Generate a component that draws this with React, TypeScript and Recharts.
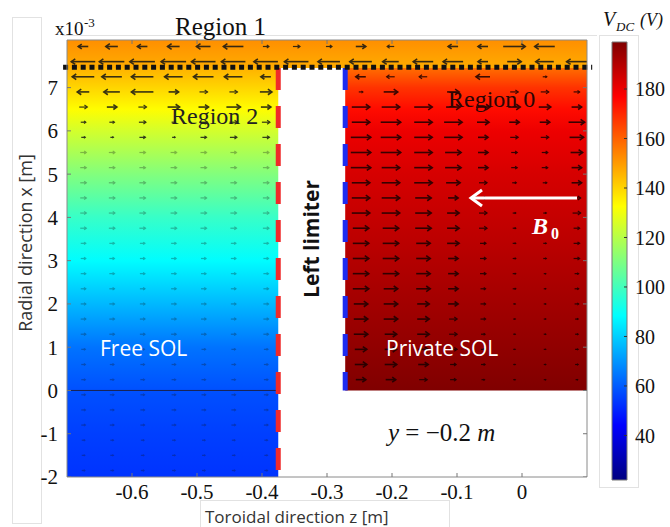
import React from 'react'
import {
  ComposedChart, XAxis, YAxis, Scatter, ReferenceArea, ReferenceLine,
} from 'recharts'

// axes
const zDomain = [-0.7, 0.1]
const xDomain = [-2, 8.1]
const vDomain = [22, 199]
const zTicks = [-0.6, -0.5, -0.4, -0.3, -0.2, -0.1, 0]
const xTicks = [-2, -1, 0, 1, 2, 3, 4, 5, 6, 7]
const vTicks = [40, 60, 80, 100, 120, 140, 160, 180]

// geometry of the domain
const limiterLeft = -0.375
const limiterRight = -0.272
const limiterTop = 7.45
const separatrix = 7.47
const privateBottom = 0

// V_DC profiles (x in 1e-3 m, V in volts) read along the radial direction
const region1Profile = [
  { x: 8.1, v: 152 }, { x: 7.45, v: 147 },
]
const region2Profile = [
  { x: 7.45, v: 146 }, { x: 7.0, v: 140 }, { x: 6.5, v: 133 }, { x: 6.0, v: 125 },
  { x: 5.0, v: 111 }, { x: 4.0, v: 98 }, { x: 3.0, v: 88 }, { x: 2.0, v: 76 },
  { x: 1.0, v: 64 }, { x: 0, v: 58 }, { x: -1, v: 55 }, { x: -2, v: 53 },
]
const region0Profile = [
  { x: 7.45, v: 158 }, { x: 7.0, v: 168 }, { x: 6.5, v: 175 }, { x: 6.0, v: 180 },
  { x: 5.0, v: 184 }, { x: 4.0, v: 187 }, { x: 3.0, v: 190 }, { x: 2.0, v: 193 },
  { x: 1.0, v: 196 }, { x: 0, v: 199 },
]

// quiver: column positions (z) and arrow lengths (px, negative = pointing to -z)
const freeCols = [-0.675, -0.631, -0.584, -0.536, -0.49, -0.444, -0.394]
const limiterCols = [-0.347, -0.297]
const privateCols = [-0.248, -0.202, -0.152, -0.106, -0.06, -0.012, 0.035, 0.084]

const region1Rows = [7.95, 7.6]
const region1U = [
  [-10, -12, -10, -12, -14, -20, 6, 7, 6, 10, -7, 0, -10, -10, 22, -20, 0],
  [-24, -25, -25, -25, -24, -24, -24, -24, -22, -22, -16, -20, -20, -10, 14, -18, -20],
]

const freeRowsUpper = [7.25, 6.9, 6.55, 6.2, 5.85]
const freeUUpper = [
  [-22, -20, -22, -18, -20, -18, -10],
  [-12, -16, -22, 10, 8, 8, 12],
  [8, 10, 8, 12, 10, 14, 10],
  [5, 5, 7, 4, 8, 8, 8],
  [4, 3, 6, 3, 6, 7, 7],
]
const freeRowsLower = [5.5, 5.15, 4.8, 4.45, 4.1, 3.75, 3.4, 3.05, 2.7, 2.35, 2.0, 1.65, 1.3, 0.95, 0.6, 0.25, -0.1, -0.45, -0.8, -1.15, -1.5, -1.85]
const freeULower = [6, 6, 6, 6, 6, 6, 5, 5, 5, 5, 5, 5, 5, 4, 4, 4, 4, 4, 4, 3, 3, 3]

const privateRows = [7.25, 6.9, 6.55, 6.2, 5.85, 5.5, 5.15, 4.8, 4.45, 4.1, 3.75, 3.4, 3.05, 2.7, 2.35, 2.0, 1.65, 1.3, 0.95, 0.6, 0.25]
const privateU = [
  [-10, -8, -8, 0, -14, 0, 4, 0],
  [4, 14, 0, 12, 0, 8, 8, 6],
  [18, 18, 18, 14, 14, 12, 12, 10],
  [18, 20, 18, 18, 12, 10, 10, 16],
  [20, 20, 18, 18, 10, 8, 8, 14],
  [20, 20, 18, 16, 10, 6, 6, 12],
  [20, 18, 18, 16, 10, 6, 6, 10],
  [18, 18, 18, 14, 8, 4, 4, 10],
  [18, 18, 16, 10, 6, 3, 3, 8],
  [18, 18, 16, 12, 8, 3, 3, 8],
  [16, 16, 16, 12, 8, 3, 3, 6],
  [16, 16, 14, 12, 6, 3, 3, 6],
  [16, 16, 14, 10, 6, 3, 3, 6],
  [16, 16, 14, 10, 6, 3, 2, 4],
  [16, 14, 14, 10, 5, 3, 2, 4],
  [14, 14, 12, 10, 5, 2, 2, 4],
  [14, 14, 12, 8, 5, 2, 2, 3],
  [14, 12, 12, 8, 4, 2, 2, 3],
  [12, 12, 10, 8, 4, 2, 2, 3],
  [12, 12, 10, 6, 4, 2, 2, 3],
  [10, 10, 8, 6, 3, 2, 2, 2],
]

const SERIF = '"Liberation Serif", "Times New Roman", serif'
const SANS = '"Open Sans", "Noto Sans", sans-serif'

const clamp = (t: number) => Math.max(0, Math.min(1, t))
function jet(v: number) {
  const t = clamp((v - vDomain[0]) / (vDomain[1] - vDomain[0]))
  const r = clamp(1.5 - Math.abs(4 * t - 3))
  const g = clamp(1.5 - Math.abs(4 * t - 2))
  const b = clamp(1.5 - Math.abs(4 * t - 1))
  const h = (c: number) => Math.round(c * 255).toString(16).padStart(2, '0')
  return `#${h(r)}${h(g)}${h(b)}`
}

function profileStops(profile: { x: number; v: number }[]) {
  const top = profile[0].x
  const bottom = profile[profile.length - 1].x
  return profile.map((p, i) => (
    <stop key={i} offset={(top - p.x) / (top - bottom)} stopColor={jet(p.v)} />
  ))
}

const arrows: { z: number; x: number; u: number; dark: boolean; faint: boolean }[] = []
const region1Cols = [...freeCols, ...limiterCols, ...privateCols]
region1Rows.forEach((x, r) => region1Cols.forEach((z, c) =>
  arrows.push({ z, x, u: region1U[r][c], dark: false, faint: false })))
freeRowsUpper.forEach((x, r) => freeCols.forEach((z, c) =>
  arrows.push({ z, x, u: freeUUpper[r][c], dark: false, faint: false })))
freeRowsLower.forEach((x, r) => freeCols.forEach(z =>
  arrows.push({ z, x, u: freeULower[r], dark: false, faint: true })))
privateRows.forEach((x, r) => privateCols.forEach((z, c) =>
  arrows.push({ z, x, u: privateU[r][c], dark: true, faint: false })))

// inward tick marks on the frame
const topMarks = zTicks.map(z => ({ z, x: xDomain[1] }))
const bottomMarks = zTicks.map(z => ({ z, x: xDomain[0] }))
const leftMarks = xTicks.map(x => ({ z: zDomain[0], x }))
const rightMarks = xTicks.map(x => ({ z: zDomain[1], x }))
const barMarks = vTicks.map(v => ({ c: 1, v }))

function Arrow(props: any) {
  const { cx, cy, payload } = props
  const u = payload?.u ?? 0
  if (Math.abs(u) < 1.5 || cx == null) return <g />
  const dir = Math.sign(u)
  const x0 = cx - u / 2
  const x1 = cx + u / 2
  const head = Math.min(4, Math.abs(u) * 0.35)
  return (
    <g
      stroke={payload.dark ? '#1a0000' : '#151515'}
      strokeWidth={Math.abs(u) > 9 ? 1.6 : 1.2}
      opacity={payload.faint ? 0.3 : 0.85}
      fill="none"
    >
      <line x1={x0} y1={cy} x2={x1} y2={cy} />
      <polyline points={`${x1 - dir * head},${cy - head * 0.7} ${x1},${cy} ${x1 - dir * head},${cy + head * 0.7}`} />
    </g>
  )
}

function Mark({ cx, cy, dx = 0, dy = 0, color = '#777' }: any) {
  if (cx == null) return <g />
  return <line x1={cx} y1={cy} x2={cx + dx} y2={cy + dy} stroke={color} strokeWidth={1} />
}

function SerifTick({ x, y, payload, anchor, dy, size }: any) {
  return (
    <text x={x} y={y} dy={dy} textAnchor={anchor} fontFamily={SERIF} fontSize={size} fill="#111">
      {payload.value}
    </text>
  )
}

const colorbarEnds = [{ c: 0, v: vDomain[0] }, { c: 1, v: vDomain[1] }]

export default function App() {
  return (
    <div style={{ position: 'absolute', left: 0, top: 0, width: 670, height: 527, background: '#fff' }}>
      <svg width={0} height={0} style={{ position: 'absolute' }}>
        <defs>
          <linearGradient id="g1" x1="0" y1="0" x2="0" y2="1">{profileStops(region1Profile)}</linearGradient>
          <linearGradient id="g2" x1="0" y1="0" x2="0" y2="1">{profileStops(region2Profile)}</linearGradient>
          <linearGradient id="g0" x1="0" y1="0" x2="0" y2="1">{profileStops(region0Profile)}</linearGradient>
          <linearGradient id="jetbar" x1="0" y1="0" x2="0" y2="1">
            {[1, 0.875, 0.625, 0.375, 0.125, 0].map((t, i) => (
              <stop key={i} offset={1 - t} stopColor={jet(vDomain[0] + t * (vDomain[1] - vDomain[0]))} />
            ))}
          </linearGradient>
        </defs>
      </svg>

      {/* faint panel boxes */}
      <div style={{ position: 'absolute', left: 12, top: 17, width: 28, height: 505, border: '1px solid #e2e2e2' }} />
      <div style={{ position: 'absolute', left: 200, top: 500, width: 248, height: 30, border: '1px solid #e2e2e2' }} />
      <div style={{ position: 'absolute', left: 599, top: 35, width: 38, height: 451, border: '1px solid #e2e2e2' }} />
      <div style={{ position: 'absolute', left: 62, top: 35, width: 535, height: 0, borderTop: '1px solid #e2e2e2' }} />

      <div style={{ position: 'absolute', left: 0, top: 0 }}>
        <ComposedChart width={670} height={527} margin={{ top: 40, right: 83, bottom: 20, left: 0 }}>
          <XAxis
            type="number" dataKey="z" domain={zDomain} ticks={zTicks} allowDataOverflow
            height={30} tickLine={false} tickMargin={1} axisLine={{ stroke: '#8a8a8a' }}
            tick={<SerifTick anchor="middle" dy="0.71em" size={21} />}
          />
          <YAxis
            type="number" dataKey="x" domain={xDomain} ticks={xTicks} allowDataOverflow
            width={67} tickLine={false} tickMargin={3} axisLine={{ stroke: '#8a8a8a' }}
            tick={<SerifTick anchor="end" dy="0.355em" size={21} />}
          />
          <ReferenceArea x1={zDomain[0]} x2={zDomain[1]} y1={limiterTop} y2={xDomain[1]} fill="url(#g1)" fillOpacity={1} stroke="none" />
          <ReferenceArea x1={zDomain[0]} x2={limiterLeft} y1={xDomain[0]} y2={limiterTop} fill="url(#g2)" fillOpacity={1} stroke="none" />
          <ReferenceArea x1={limiterRight} x2={zDomain[1]} y1={privateBottom} y2={limiterTop} fill="url(#g0)" fillOpacity={1} stroke="none" />
          <ReferenceLine segment={[{ x: zDomain[0], y: 0 }, { x: limiterLeft, y: 0 }]} stroke="#1b2350" strokeWidth={1} />
          <Scatter data={arrows} isAnimationActive={false} shape={<Arrow />} />
          <ReferenceLine
            segment={[{ x: limiterLeft, y: limiterTop }, { x: limiterLeft, y: xDomain[0] }]}
            stroke="#f02a2a" strokeWidth={5} strokeDasharray="22 16"
          />
          <ReferenceLine
            segment={[{ x: limiterRight, y: limiterTop }, { x: limiterRight, y: privateBottom }]}
            stroke="#1e2cf0" strokeWidth={5} strokeDasharray="22 16"
          />
          <ReferenceLine
            segment={[{ x: -0.706, y: separatrix }, { x: 0.108, y: separatrix }]}
            ifOverflow="visible" stroke="#111" strokeWidth={5} strokeDasharray="5 3.8"
          />
          <ReferenceLine y={xDomain[1]} stroke="#8a8a8a" />
          <ReferenceLine x={zDomain[1]} stroke="#8a8a8a" />
          <Scatter data={topMarks} isAnimationActive={false} shape={<Mark dy={4} />} />
          <Scatter data={bottomMarks} isAnimationActive={false} shape={<Mark dy={-4} />} />
          <Scatter data={leftMarks} isAnimationActive={false} shape={<Mark dx={4} />} />
          <Scatter data={rightMarks} isAnimationActive={false} shape={<Mark dx={-4} />} />
        </ComposedChart>
      </div>

      {/* colorbar */}
      <div style={{ position: 'absolute', left: 600, top: 0 }}>
        <ComposedChart width={70} height={527} margin={{ top: 42, right: 0, bottom: 47, left: 12 }}>
          <XAxis type="number" dataKey="c" domain={[0, 1]} hide />
          <YAxis
            type="number" dataKey="v" orientation="right" domain={vDomain} ticks={vTicks} allowDataOverflow
            width={43} tickLine={false} axisLine={false} tickMargin={2}
            tick={<SerifTick anchor="start" dy="0.355em" size={20} />}
          />
          <ReferenceArea x1={0} x2={1} y1={vDomain[0]} y2={vDomain[1]} fill="url(#jetbar)" fillOpacity={1} stroke="#777" />
          <Scatter data={colorbarEnds} isAnimationActive={false} shape={() => <g />} />
          <Scatter data={barMarks} isAnimationActive={false} shape={<Mark dx={-3} color="#333" />} />
        </ComposedChart>
      </div>

      {/* annotations */}
      <svg width={670} height={527} style={{ position: 'absolute', left: 0, top: 0, pointerEvents: 'none' }}>
        <text x={55} y={35} fontFamily={SERIF} fontSize={19} fill="#111">x10</text>
        <text x={84} y={27} fontFamily={SERIF} fontSize={13} fill="#111">-3</text>
        <text x={175} y={35} fontFamily={SERIF} fontSize={25} fill="#111">Region 1</text>
        <text x={171} y={124} fontFamily={SERIF} fontSize={24} fill="#222">Region 2</text>
        <text x={448} y={107} fontFamily={SERIF} fontSize={24} fill="#2a0505">Region 0</text>
        <text
          x={311} y={239} transform="rotate(-90 311 239)" textAnchor="middle" dominantBaseline="central"
          fontFamily={SANS} fontSize={21} fontWeight="bold" fill="#111"
        >Left limiter</text>
        <text x={100} y={356} fontFamily={SANS} fontSize={21} fill="#fff">Free SOL</text>
        <text x={386} y={356} fontFamily={SANS} fontSize={21} fill="#fff">Private SOL</text>
        <text x={388} y={441} fontFamily={SERIF} fontSize={25} fill="#111">
          <tspan fontStyle="italic">y</tspan> = −0.2 <tspan fontStyle="italic">m</tspan>
        </text>
        <line x1={577} y1={198} x2={472} y2={198} stroke="#fff" strokeWidth={3} />
        <polyline points="482,190 471,198 482,206" stroke="#fff" strokeWidth={3} fill="none" />
        <text x={532} y={234} fontFamily={SERIF} fontSize={24} fontStyle="italic" fontWeight="bold" fill="#fff">B</text>
        <text x={551} y={239} fontFamily={SERIF} fontSize={16} fontWeight="bold" fill="#fff">0</text>
        <text x={603} y={26} fontFamily={SERIF} fontSize={20} fontStyle="italic" fill="#111">V</text>
        <text x={616} y={31} fontFamily={SERIF} fontSize={13} fontStyle="italic" fill="#111">DC</text>
        <text x={640} y={26} fontFamily={SERIF} fontSize={18} fontStyle="italic" fill="#111">(V)</text>
        <text x={205} y={523} fontFamily={SANS} fontSize={17} fill="#333">Toroidal direction z [m]</text>
        <text
          x={25} y={243} transform="rotate(-90 25 243)" textAnchor="middle" dominantBaseline="central"
          fontFamily={SANS} fontSize={18} fill="#333"
        >Radial direction x [m]</text>
      </svg>
    </div>
  )
}
